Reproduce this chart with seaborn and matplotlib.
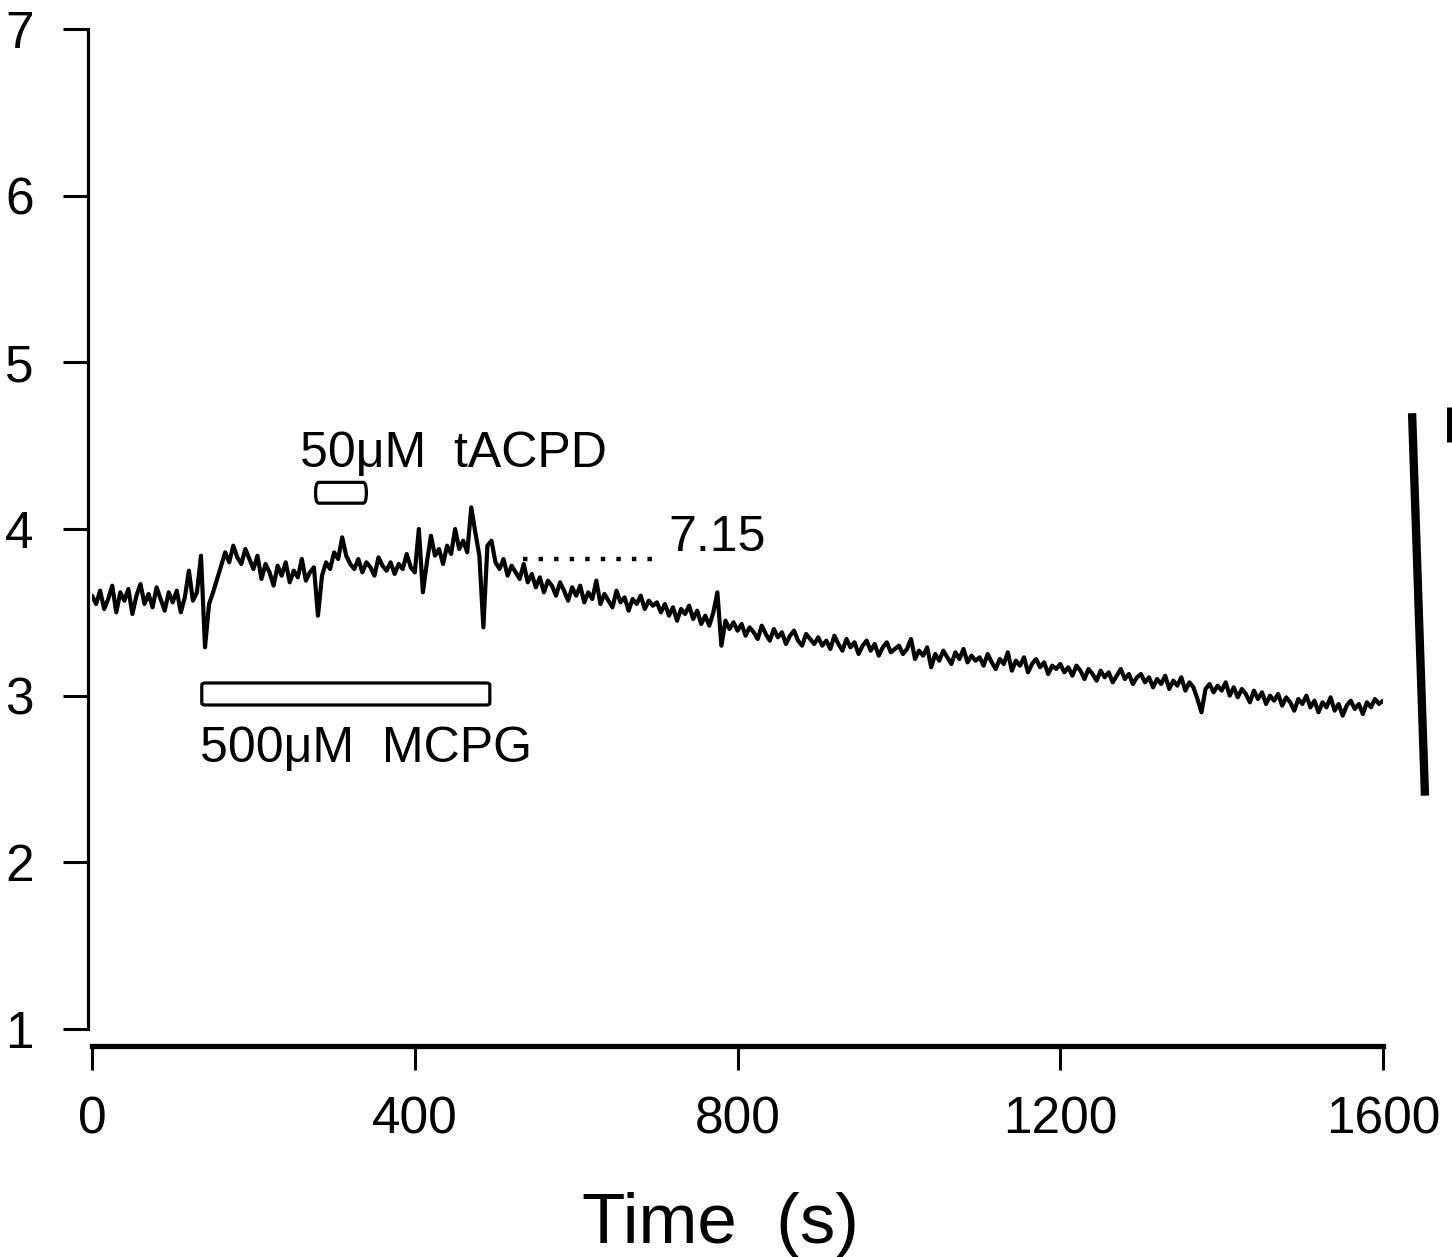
import numpy as np
import pandas as pd
import matplotlib
matplotlib.use("Agg")
import matplotlib.pyplot as plt
from matplotlib.patches import FancyBboxPatch
import seaborn as sns

# Recording sampled every 5 s from 0 to 1600 s
time_s = list(range(0, 1601, 5))
signal = [
    3.60, 3.55, 3.63, 3.52, 3.58, 3.66, 3.50, 3.62, 3.57, 3.64, 3.49, 3.60, 3.67, 3.55, 3.61, 3.53, 3.65, 3.58, 3.51, 3.62,
    3.56, 3.63, 3.50, 3.59, 3.75, 3.57, 3.62, 3.84, 3.29, 3.55, 3.62, 3.70, 3.78, 3.86, 3.80, 3.90, 3.83, 3.79, 3.88, 3.82,
    3.76, 3.84, 3.70, 3.79, 3.74, 3.66, 3.78, 3.72, 3.80, 3.68, 3.75, 3.71, 3.82, 3.69, 3.74, 3.77, 3.48, 3.72, 3.80, 3.76,
    3.86, 3.82, 3.95, 3.84, 3.79, 3.76, 3.82, 3.74, 3.80, 3.77, 3.72, 3.83, 3.78, 3.75, 3.80, 3.73, 3.79, 3.76, 3.85, 3.77,
    3.74, 4.00, 3.62, 3.80, 3.96, 3.84, 3.88, 3.79, 3.90, 3.85, 4.00, 3.88, 3.93, 3.86, 4.13, 3.98, 3.84, 3.41, 3.90, 3.93,
    3.80, 3.76, 3.82, 3.72, 3.78, 3.74, 3.70, 3.79, 3.68, 3.73, 3.65, 3.71, 3.62, 3.69, 3.66, 3.60, 3.68, 3.63, 3.57, 3.65,
    3.60, 3.66, 3.56, 3.62, 3.58, 3.69, 3.55, 3.61, 3.57, 3.53, 3.63, 3.56, 3.59, 3.51, 3.58, 3.55, 3.60, 3.52, 3.57, 3.54,
    3.56, 3.50, 3.55, 3.48, 3.53, 3.45, 3.52, 3.49, 3.54, 3.46, 3.51, 3.43, 3.48, 3.42, 3.50, 3.62, 3.30, 3.45, 3.40, 3.44,
    3.39, 3.43, 3.36, 3.41, 3.38, 3.34, 3.42, 3.37, 3.33, 3.40, 3.35, 3.38, 3.31, 3.36, 3.39, 3.33, 3.30, 3.37, 3.34, 3.31,
    3.35, 3.30, 3.33, 3.28, 3.36, 3.31, 3.27, 3.34, 3.29, 3.32, 3.25, 3.30, 3.33, 3.27, 3.31, 3.24, 3.29, 3.32, 3.26, 3.28,
    3.30, 3.25, 3.28, 3.34, 3.22, 3.27, 3.24, 3.29, 3.17, 3.25, 3.21, 3.27, 3.23, 3.19, 3.26, 3.22, 3.28, 3.20, 3.24, 3.21,
    3.23, 3.18, 3.25, 3.20, 3.16, 3.22, 3.19, 3.26, 3.15, 3.21, 3.18, 3.23, 3.14, 3.19, 3.22, 3.17, 3.20, 3.13, 3.18, 3.16,
    3.19, 3.14, 3.17, 3.12, 3.18, 3.15, 3.10, 3.16, 3.13, 3.09, 3.15, 3.11, 3.14, 3.08, 3.12, 3.16, 3.10, 3.13, 3.07, 3.11,
    3.13, 3.08, 3.11, 3.05, 3.10, 3.07, 3.12, 3.04, 3.09, 3.06, 3.11, 3.03, 3.08, 3.05, 2.98, 2.90, 3.04, 3.07, 3.02, 3.06,
    3.03, 3.08, 3.00, 3.05, 2.99, 3.04, 3.01, 2.96, 3.03, 2.98, 3.02, 2.95, 3.00, 2.97, 3.01, 2.94, 2.99, 2.96, 2.91, 2.98,
    2.95, 3.00, 2.93, 2.97, 2.90, 2.96, 2.93, 2.99, 2.91, 2.95, 2.88, 2.94, 2.97, 2.92, 2.95, 2.89, 2.96, 2.93, 2.98, 2.95,
    2.97,
]

# Drug application periods (s) and the level of their bars
drug_labels = ["50μM  tACPD", "500μM  MCPG"]
drug_start = [277, 136]
drug_end = [340, 493]
drug_bar_y = [4.155, 2.944]
drug_bar_h = [0.125, 0.132]

# Reference level marked by the dotted line
ref_label = "7.15"
ref_level = 3.82
ref_span = [534, 702]

x_ticks = [0, 400, 800, 1200, 1600]
y_ticks = [1, 2, 3, 4, 5, 6, 7]

sns.set_theme(style="ticks")
plt.rcParams["font.family"] = ["Liberation Sans", "DejaVu Sans"]
plt.rcParams["text.color"] = "black"
plt.rcParams["axes.labelcolor"] = "black"
plt.rcParams["axes.edgecolor"] = "black"
plt.rcParams["xtick.color"] = "black"
plt.rcParams["ytick.color"] = "black"

fig = plt.figure(figsize=(14.52, 12.57), dpi=100)
ax = fig.add_axes([0.0634, 0.1814, 0.8891, 0.7955])

df = pd.DataFrame({"time": time_s, "value": signal})
sns.lineplot(data=df, x="time", y="value", ax=ax, color="black",
             linewidth=3.0, estimator=None)

ax.set_xlim(0, 1600)
ax.set_ylim(1, 7)
ax.set_xticks(x_ticks)
ax.set_yticks(y_ticks)
ax.set_xticklabels([str(v) for v in x_ticks])
ax.set_yticklabels([str(v) for v in y_ticks])

for side in ("top", "right"):
    ax.spines[side].set_visible(False)
ax.spines["left"].set_linewidth(2.3)
ax.spines["left"].set_color("black")
ax.spines["left"].set_position(("outward", 3))
ax.spines["bottom"].set_linewidth(3.8)
ax.spines["bottom"].set_color("black")
ax.spines["bottom"].set_position(("outward", 12))

ax.tick_params(axis="y", direction="out", length=18, width=2.2,
               pad=21, labelsize=37, colors="black")
ax.tick_params(axis="x", direction="out", length=17, width=2.2,
               pad=19, labelsize=37, colors="black")

ax.set_ylabel("")
ax.set_xlabel("Time  (s)", fontsize=51, color="black")
ax.xaxis.set_label_coords(0.487, -0.163)
ax.xaxis.label.set_va("top")

# Drug application bars with their labels
for s, e, yb, h in zip(drug_start, drug_end, drug_bar_y, drug_bar_h):
    box = FancyBboxPatch((s, yb), e - s, h,
                         boxstyle="round,pad=0,rounding_size=4",
                         mutation_aspect=h / (e - s) * 8,
                         facecolor="white", edgecolor="black", linewidth=2.3,
                         zorder=3)
    ax.add_patch(box)

ax.text(258, 4.37, drug_labels[0], fontsize=36, ha="left", va="baseline")
ax.text(134, 2.60, drug_labels[1], fontsize=36, ha="left", va="baseline")

# Dotted reference level
ax.plot(ref_span, [ref_level, ref_level], color="black", linewidth=3.2,
        linestyle=(0, (1, 2.5)), dash_capstyle="butt")
ax.text(714, 3.87, ref_label, fontsize=36, ha="left", va="baseline")

# Scale bar at the right edge
ax.plot([1636, 1652], [4.695, 2.40], color="black", linewidth=6,
        solid_capstyle="butt", clip_on=False)
ax.plot([1683, 1683], [4.73, 4.52], color="black", linewidth=5,
        solid_capstyle="butt", clip_on=False)

fig.savefig("out.png", dpi=100, facecolor="white")
